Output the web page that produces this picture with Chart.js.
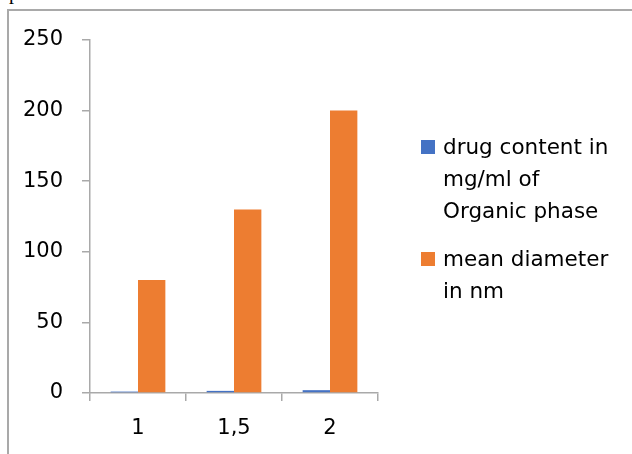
<!DOCTYPE html>
<html lang="en">
  <head>
    <meta charset="UTF-8" />
    <title>Drug content vs mean diameter</title>
    <script src="https://cdn.jsdelivr.net/npm/chart.js"></script>
    <style>
      body { margin: 0; background: #fff; }
      .wrap { position: relative; width: 632px; height: 454px; overflow: hidden; }
      .frame {
        position: absolute; left: 7px; top: 9px; width: 700px; height: 500px;
        border-left: 2px solid #a9a9a9; border-top: 2px solid #a9a9a9;
      }
      .cut { position: absolute; left: 9px; top: -19px; font: 20px "Liberation Serif"; color: #000; }
      canvas { position: absolute; left: 0; top: 0; }
      .legend {
        position: absolute; left: 421px; top: 131px;
        font: 21.5px "DejaVu Sans"; color: #000; line-height: 32px;
      }
      .item { position: relative; padding-left: 22px; margin-bottom: 16px; }
      .item span {
        position: absolute; left: 0; top: 9px; width: 14px; height: 14px;
      }
    </style>
  </head>
  <body>
    <div class="wrap">
      <div class="cut">p</div>
      <div class="frame"></div>
      <canvas id="barChart" width="632" height="454"></canvas>
      <div class="legend" id="legend"></div>
    </div>

    <script>
      // values
      const categories = ["1", "1,5", "2"];
      const drugContent = [1, 1.5, 2];
      const meanDiameter = [80, 130, 200];
      const seriesNames = [
        ["drug content in", "mg/ml of", "Organic phase"],
        ["mean diameter", "in nm"],
      ];
      const colors = ["#4472C4", "#ED7D31"];

      const axisGray = "#a9a9a9";
      const tickFont = { family: "DejaVu Sans", size: 21 };

      // legend as plain html on the right
      const legend = document.getElementById("legend");
      seriesNames.forEach((lines, i) => {
        const item = document.createElement("div");
        item.className = "item";
        item.innerHTML =
          '<span style="background:' + colors[i] + '"></span>' + lines.join("<br>");
        legend.appendChild(item);
      });

      const ctx = document.getElementById("barChart").getContext("2d");
      new Chart(ctx, {
        type: "bar",
        data: {
          labels: categories,
          datasets: [
            { label: seriesNames[0].join(" "), data: drugContent, backgroundColor: colors[0] },
            { label: seriesNames[1].join(" "), data: meanDiameter, backgroundColor: colors[1] },
          ],
        },
        options: {
          responsive: false,
          animation: false,
          devicePixelRatio: 1,
          layout: { padding: { left: 0, top: 40, right: 254, bottom: 0 } },
          datasets: { bar: { categoryPercentage: 0.57, barPercentage: 1 } },
          plugins: { legend: { display: false }, tooltip: { enabled: false } },
          scales: {
            x: {
              grid: { offset: true, drawOnChartArea: false, tickLength: 8, color: axisGray, lineWidth: 1.5 },
              border: { color: axisGray, width: 1.5 },
              ticks: { color: "#000", font: tickFont, padding: 15 },
              afterFit: (scale) => { scale.height = 61; },
            },
            y: {
              min: 0,
              max: 250,
              grid: { drawOnChartArea: false, tickLength: 8, color: axisGray, lineWidth: 1.5 },
              border: { color: axisGray, width: 1.5 },
              ticks: { stepSize: 50, color: "#000", font: tickFont, padding: 19 },
              afterFit: (scale) => { scale.width = 90; },
            },
          },
        },
      });
    </script>
  </body>
</html>
